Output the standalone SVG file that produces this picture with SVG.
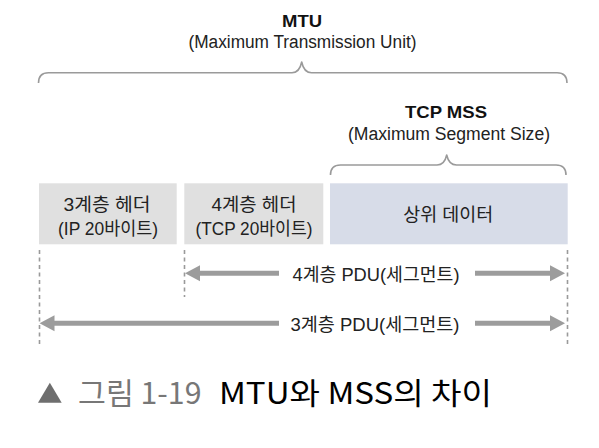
<svg xmlns="http://www.w3.org/2000/svg" width="599" height="448" viewBox="0 0 599 448">
<defs>
<style>
.t{font-family:"Liberation Sans","Noto Sans CJK KR",sans-serif;fill:#222;text-anchor:middle}
.b{font-weight:bold;fill:#111}
.brace{fill:none;stroke:#9a9a9a;stroke-width:1.6;stroke-linejoin:round}
.dash{stroke:#9a9a9a;stroke-width:1.6;stroke-dasharray:4 3.5}
.shaft{stroke:#9c9c9c;stroke-width:5}
.head{fill:#9c9c9c}
.cap{font-family:"Noto Sans CJK KR","Liberation Sans",sans-serif;font-size:30px}
</style>
</defs>
<rect width="599" height="448" fill="#fff"/>

<g id="mtu-label">
<text class="t b" x="302" y="27" font-size="16" textLength="40" lengthAdjust="spacingAndGlyphs">MTU</text>
<text class="t" x="302.5" y="48" font-size="18" textLength="228" lengthAdjust="spacingAndGlyphs">(Maximum Transmission Unit)</text>
<path class="brace" d="M38.5,83 Q38.5,72.7 48.5,72.7 L292,72.7 Q299.5,72.7 301.7,62 Q303.9,72.7 311.5,72.7 L557,72.7 Q567,72.7 567,83"/>
</g>

<g id="mss-label">
<text class="t b" x="446" y="118" font-size="17" textLength="82" lengthAdjust="spacingAndGlyphs">TCP MSS</text>
<text class="t" x="449" y="139.5" font-size="18" textLength="202" lengthAdjust="spacingAndGlyphs">(Maximum Segment Size)</text>
<path class="brace" d="M330.5,175 Q330.5,165 340.5,165 L437,165 Q444.5,165 446.7,155 Q448.9,165 456.5,165 L556,165 Q566,165 566,175"/>
</g>

<g id="l3-header">
<rect x="39" y="183.3" width="137.7" height="61" fill="#e0e0e0"/>
<text class="t" x="107" y="210.5" font-size="18.5" textLength="87" lengthAdjust="spacingAndGlyphs">3계층 헤더</text>
<text class="t" x="108" y="234.5" font-size="18.5" textLength="100" lengthAdjust="spacingAndGlyphs">(IP 20바이트)</text>
</g>

<g id="l4-header">
<rect x="184.3" y="183.3" width="139" height="61" fill="#e0e0e0"/>
<text class="t" x="254" y="210.5" font-size="18.5" textLength="85" lengthAdjust="spacingAndGlyphs">4계층 헤더</text>
<text class="t" x="254" y="234.5" font-size="18.5" textLength="117" lengthAdjust="spacingAndGlyphs">(TCP 20바이트)</text>
</g>

<g id="upper-data">
<rect x="330" y="183.3" width="237.7" height="61" fill="#d7dce8"/>
<text class="t" x="448.3" y="220.5" font-size="18.5" textLength="90" lengthAdjust="spacingAndGlyphs">상위 데이터</text>
</g>

<g id="connectors">
<line class="dash" x1="39.5" y1="250" x2="39.5" y2="344"/>
<line class="dash" x1="184.5" y1="250" x2="184.5" y2="297"/>
<line class="dash" x1="567.5" y1="250" x2="567.5" y2="344"/>

<line class="shaft" x1="198" y1="273.3" x2="279" y2="273.3"/>
<polygon class="head" points="185,273.3 200,265.3 200,281.3"/>
<line class="shaft" x1="475" y1="273.3" x2="552" y2="273.3"/>
<polygon class="head" points="565,273.3 550,265.3 550,281.3"/>

<line class="shaft" x1="52" y1="323.3" x2="279" y2="323.3"/>
<polygon class="head" points="39.5,323.3 54.5,315.3 54.5,331.3"/>
<line class="shaft" x1="475" y1="323.3" x2="552" y2="323.3"/>
<polygon class="head" points="565,323.3 550,315.3 550,331.3"/>
</g>

<g id="pdu-labels">
<text class="t" x="376" y="280.5" font-size="18.5" textLength="167" lengthAdjust="spacingAndGlyphs">4계층 PDU(세그먼트)</text>
<text class="t" x="375" y="330.5" font-size="18.5" textLength="169" lengthAdjust="spacingAndGlyphs">3계층 PDU(세그먼트)</text>
</g>

<g id="caption">
<polygon points="38,402.7 61.7,402.7 49.85,382.7" fill="#6e6e6e"/>
<text class="cap" x="78" y="404" fill="#777" textLength="123.5" lengthAdjust="spacingAndGlyphs">그림 1-19</text>
<text class="cap" x="219" y="404" fill="#000" textLength="273" lengthAdjust="spacingAndGlyphs">MTU와 MSS의 차이</text>
</g>
</svg>
